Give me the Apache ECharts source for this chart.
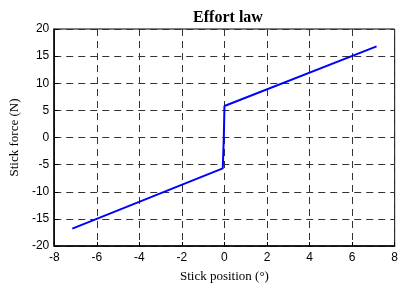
<!DOCTYPE html>
<html>
<head>
<meta charset="utf-8">
<script src="https://cdn.jsdelivr.net/npm/echarts@6/dist/echarts.min.js"></script>
<style>
  html, body { margin: 0; padding: 0; background: #fff; }
  #chart { width: 401px; height: 288px; }
</style>
</head>
<body>
<div id="chart"></div>
<script>
// stick position (deg) vs stick force (N)
const stickPosition = [-7.15, -0.08, -0.03, 0.0, 7.15]
const stickForce = [-16.8, -5.7, 0, 5.8, 16.8]
const xTicks = [-8, -6, -4, -2, 0, 2, 4, 6, 8]
const yTicks = [-20, -15, -10, -5, 0, 5, 10, 15, 20]

const points = stickPosition.map((x, i) => [x, stickForce[i]])

const gridLine = {
  show: true,
  lineStyle: { color: '#333', type: [7, 5], width: 1 }
}

const chart = echarts.init(document.getElementById('chart'))
chart.setOption({
  animation: false,
  title: {
    text: 'Effort law',
    left: 223,
    textAlign: 'center',
    top: 5,
    textStyle: { fontFamily: 'Liberation Serif', fontWeight: 'bold', fontSize: 16, color: '#000' }
  },
  grid: {
    left: 49, right: 1, top: 29, bottom: 38,
    show: true, borderColor: '#000', borderWidth: 1
  },
  xAxis: {
    type: 'value',
    min: xTicks[0],
    max: xTicks[xTicks.length - 1],
    interval: 2,
    name: 'Stick position (°)',
    nameLocation: 'middle',
    nameGap: 24,
    nameTextStyle: { fontFamily: 'Liberation Serif', fontSize: 13, color: '#000' },
    axisLine: { show: true, onZero: false, lineStyle: { color: '#000', width: 1.5 } },
    axisTick: { show: true, inside: true, length: 4, lineStyle: { color: '#000' } },
    axisLabel: { fontFamily: 'Liberation Sans', fontSize: 12, color: '#000', margin: 6 },
    splitLine: gridLine
  },
  yAxis: {
    type: 'value',
    min: yTicks[0],
    max: yTicks[yTicks.length - 1],
    interval: 5,
    name: 'Stick force (N)',
    nameLocation: 'middle',
    nameGap: 33,
    nameTextStyle: { fontFamily: 'Liberation Serif', fontSize: 13, color: '#000' },
    axisLine: { show: true, onZero: false, lineStyle: { color: '#000', width: 1.5 } },
    axisTick: { show: true, inside: true, length: 4, lineStyle: { color: '#000' } },
    axisLabel: { fontFamily: 'Liberation Sans', fontSize: 12, color: '#000', margin: 5 },
    splitLine: gridLine
  },
  series: [{
    type: 'line',
    data: points,
    symbol: 'none',
    lineStyle: { color: '#0000ff', width: 2 }
  }]
})
</script>
</body>
</html>
